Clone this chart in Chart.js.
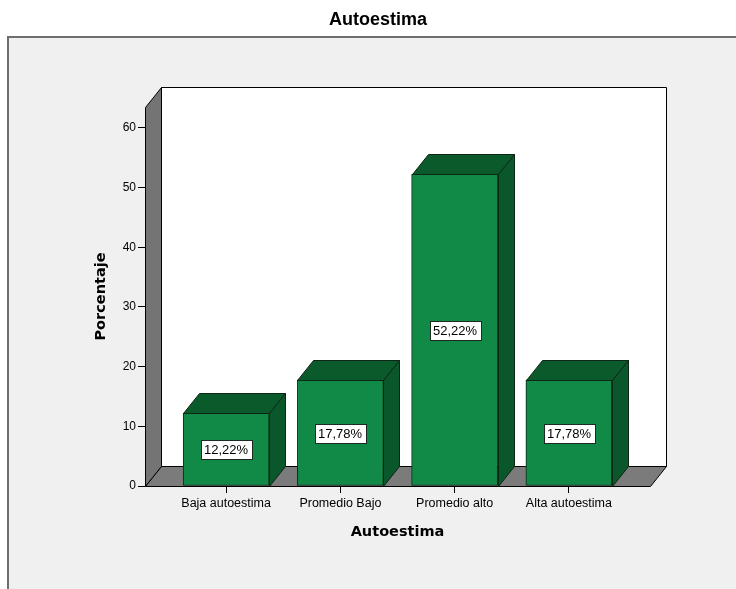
<!DOCTYPE html>
<html>
<head>
<meta charset="utf-8">
<title>Autoestima</title>
<script src="https://cdn.jsdelivr.net/npm/chart.js@4.4.0/dist/chart.umd.min.js"></script>
<style>
  html, body { margin: 0; padding: 0; background: #fff; }
  canvas { display: block; }
</style>
</head>
<body>
<canvas id="grafico" width="736" height="589"></canvas>
<script>
// Datos del gráfico
const categorias = ['Baja autoestima', 'Promedio Bajo', 'Promedio alto', 'Alta autoestima'];
const porcentajes = [12.22, 17.78, 52.22, 17.78];

// Profundidad de la perspectiva (px)
const PROF_X = 16;
const PROF_Y = 20;

const fuenteSans = '"Liberation Sans", Arial, sans-serif';
const fuenteTitulo = '"DejaVu Sans", Verdana, sans-serif';

function formatoPct(v) {
    return v.toFixed(2).replace('.', ',') + '%';
}

function poligono(ctx, puntos, relleno, trazo) {
    ctx.beginPath();
    ctx.moveTo(puntos[0][0], puntos[0][1]);
    for (let i = 1; i < puntos.length; i++) ctx.lineTo(puntos[i][0], puntos[i][1]);
    ctx.closePath();
    if (relleno) { ctx.fillStyle = relleno; ctx.fill(); }
    if (trazo) { ctx.strokeStyle = trazo; ctx.lineWidth = 1; ctx.stroke(); }
}

// Fondo, título, paredes y suelo en 3D
const fondo3d = {
    id: 'fondo3d',
    beforeDraw(chart) {
        const ctx = chart.ctx;
        const { left, right, top, bottom } = chart.chartArea;
        ctx.save();
        ctx.fillStyle = '#fff';
        ctx.fillRect(0, 0, chart.width, chart.height);
        ctx.fillStyle = '#f0f0f0';
        ctx.fillRect(7, 36, chart.width, chart.height);
        ctx.strokeStyle = '#6e6e6e';
        ctx.lineWidth = 2;
        ctx.beginPath();
        ctx.moveTo(8, chart.height);
        ctx.lineTo(8, 37);
        ctx.lineTo(chart.width, 37);
        ctx.stroke();

        ctx.fillStyle = '#000';
        ctx.font = 'bold 18px ' + fuenteSans;
        ctx.textAlign = 'center';
        ctx.textBaseline = 'middle';
        ctx.fillText('Autoestima', 378, 20);

        const l = Math.round(left) + 0.5, r = Math.round(right) + 0.5;
        const t = Math.round(top) + 0.5, b = Math.round(bottom) + 0.5;
        // pared del fondo
        poligono(ctx, [[l + PROF_X, t - PROF_Y], [r + PROF_X, t - PROF_Y], [r + PROF_X, b - PROF_Y], [l + PROF_X, b - PROF_Y]], '#fff', '#000');
        // pared izquierda
        poligono(ctx, [[l, b], [l, t], [l + PROF_X, t - PROF_Y], [l + PROF_X, b - PROF_Y]], '#747474', '#000');
        // suelo
        poligono(ctx, [[l, b], [r, b], [r + PROF_X, b - PROF_Y], [l + PROF_X, b - PROF_Y]], '#7b7b7b', '#000');
        ctx.restore();
    }
};

// Caras superior y lateral de cada barra, y etiquetas de valor
const barras3d = {
    id: 'barras3d',
    afterDatasetsDraw(chart) {
        const ctx = chart.ctx;
        const meta = chart.getDatasetMeta(0);
        ctx.save();
        meta.data.forEach((barra, i) => {
            const { x, y, base, width } = barra.getProps(['x', 'y', 'base', 'width'], true);
            const x0 = Math.round(x - width / 2) + 0.5;
            const x1 = Math.round(x + width / 2) + 0.5;
            const yt = Math.round(y) + 0.5;
            const yb = Math.round(base) + 0.5;
            poligono(ctx, [[x0, yt], [x1, yt], [x1 + PROF_X, yt - PROF_Y], [x0 + PROF_X, yt - PROF_Y]], '#0a5a2c', '#0d2616');
            poligono(ctx, [[x1, yt], [x1 + PROF_X, yt - PROF_Y], [x1 + PROF_X, yb - PROF_Y], [x1, yb]], '#09572a', '#0d2616');

            const texto = formatoPct(porcentajes[i]);
            ctx.font = '13px ' + fuenteSans;
            const ancho = Math.ceil(ctx.measureText(texto).width) + 6;
            const alto = 19;
            const cx = Math.round(x);
            const cy = Math.round((y + base) / 2);
            const bx = Math.round(cx - ancho / 2) + 0.5;
            const by = Math.round(cy - alto / 2) + 0.5;
            ctx.fillStyle = '#fff';
            ctx.fillRect(bx, by, ancho, alto);
            ctx.strokeStyle = '#1b2b20';
            ctx.lineWidth = 1;
            ctx.strokeRect(bx, by, ancho, alto);
            ctx.fillStyle = '#000';
            ctx.textAlign = 'center';
            ctx.textBaseline = 'middle';
            ctx.fillText(texto, cx, cy + 1);
        });
        ctx.restore();
    }
};

const ctx = document.getElementById('grafico').getContext('2d');
new Chart(ctx, {
    type: 'bar',
    data: {
        datasets: [{
            label: 'Porcentaje',
            data: porcentajes.map((v, i) => ({ x: i, y: v })),
            backgroundColor: '#118a48',
            borderColor: '#0d2616',
            borderWidth: 1,
            borderSkipped: false,
            barThickness: 86
        }]
    },
    options: {
        responsive: false,
        animation: false,
        layout: { padding: { left: 89, right: 86, top: 107, bottom: 44 } },
        plugins: {
            legend: { display: false },
            tooltip: { enabled: false }
        },
        scales: {
            x: {
                type: 'linear',
                offset: false,
                min: -0.71,
                max: 3.71,
                afterFit: (s) => { s.height = 59; },
                border: { display: false },
                grid: { offset: false, drawOnChartArea: false, tickLength: 7, color: '#000', tickColor: '#000' },
                ticks: {
                    stepSize: 1,
                    includeBounds: false,
                    autoSkip: false,
                    maxRotation: 0,
                    padding: 3,
                    color: '#000',
                    font: { family: fuenteSans, size: 12.5 },
                    callback: (v) => categorias[v] ?? ''
                },
                title: {
                    display: true,
                    text: 'Autoestima',
                    color: '#000',
                    padding: { top: 4, bottom: 4 },
                    font: { family: fuenteTitulo, size: 14.5, weight: 'bold' }
                }
            },
            y: {
                min: 0,
                max: 63.5,
                afterFit: (s) => { s.width = 56; },
                border: { display: false },
                grid: { drawOnChartArea: false, tickLength: 7, color: '#000', tickColor: '#000' },
                ticks: {
                    stepSize: 10,
                    includeBounds: false,
                    padding: 2,
                    color: '#000',
                    font: { family: fuenteSans, size: 12 }
                },
                title: {
                    display: true,
                    text: 'Porcentaje',
                    color: '#000',
                    padding: { top: 4, bottom: 4 },
                    font: { family: fuenteTitulo, size: 14.5, weight: 'bold' }
                }
            }
        }
    },
    plugins: [fondo3d, barras3d]
});
</script>
</body>
</html>
